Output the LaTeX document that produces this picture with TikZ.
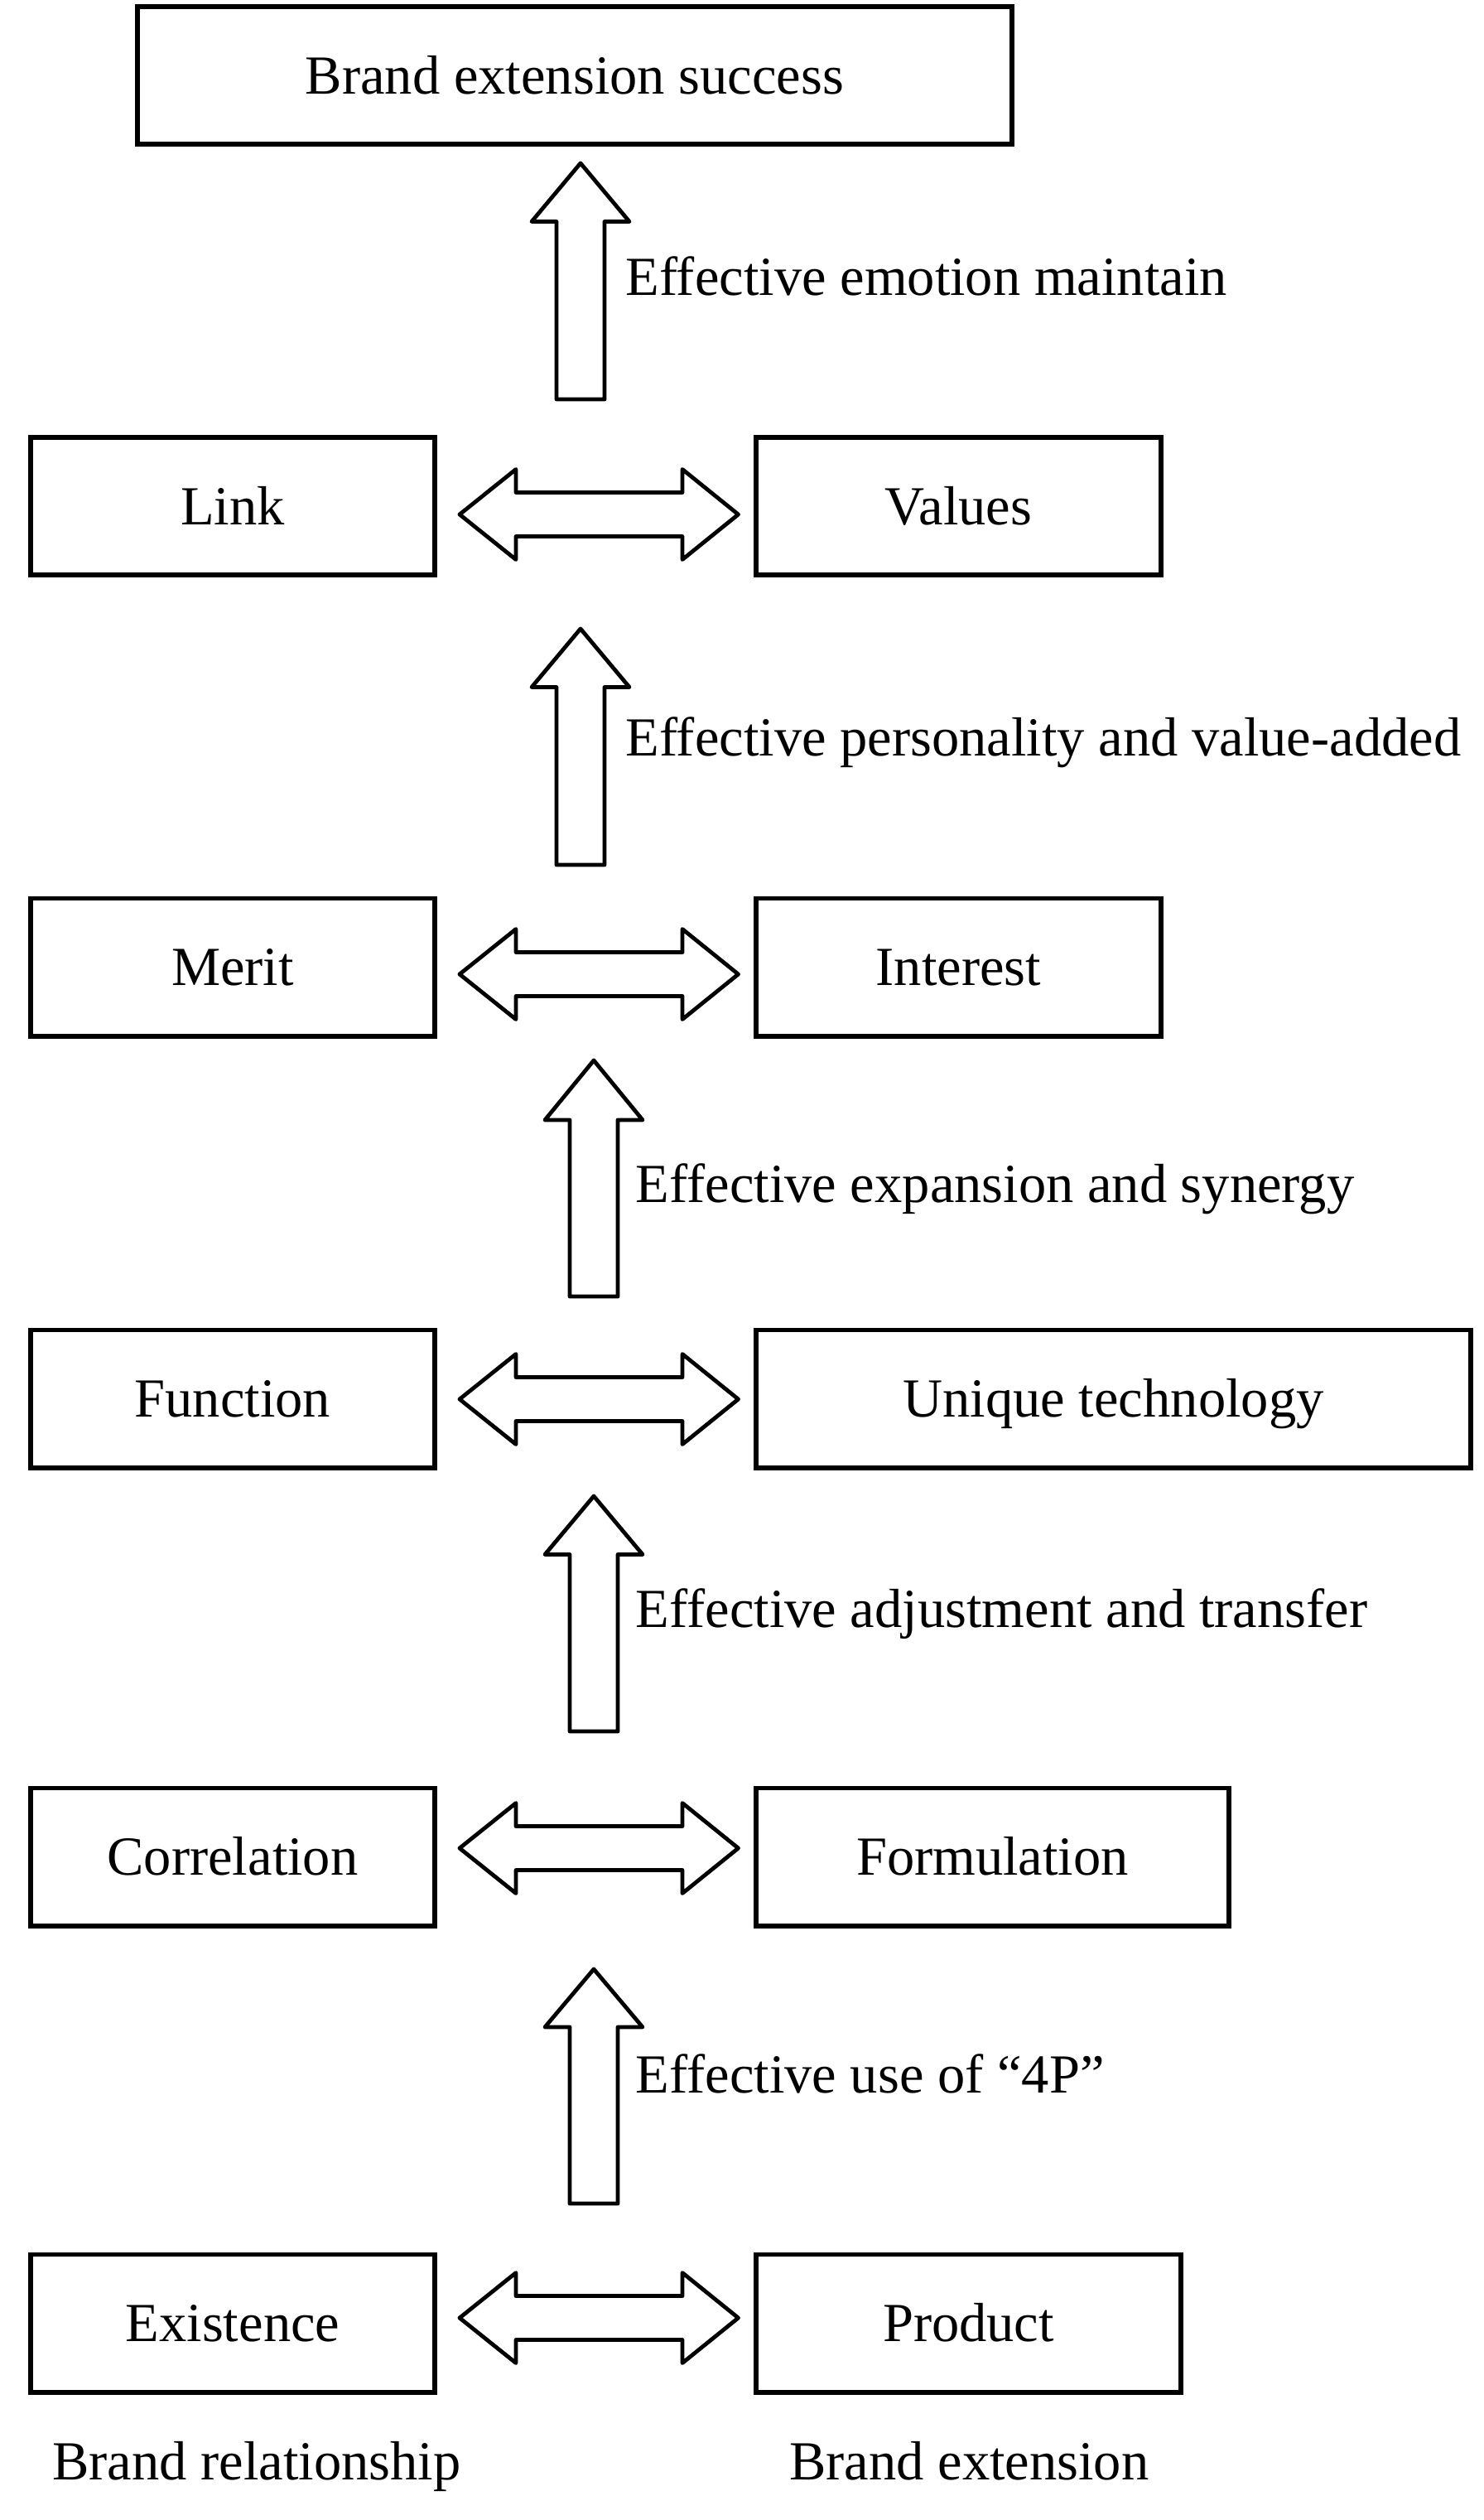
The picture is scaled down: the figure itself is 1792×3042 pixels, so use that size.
\documentclass[tikz,border=0pt]{standalone}
\usepackage{fontspec}
\setmainfont{Liberation Serif}
\newcommand\uparr[4]{%
  \draw[blk] (#1,#2) -- (#1+59,#3) -- (#1+29,#3) -- (#1+29,#4) -- (#1-29,#4) -- (#1-29,#3) -- (#1-59,#3) -- cycle;}
\newcommand\dblarr[1]{%
  \draw[blk] (555,#1) -- (623,#1-54.5) -- (623,#1-26.5) -- (824,#1-26.5) -- (824,#1-54.5) -- (891.5,#1)
    -- (824,#1+54.5) -- (824,#1+26.5) -- (623,#1+26.5) -- (623,#1+54.5) -- cycle;}
\begin{document}
\begin{tikzpicture}[x=0.5pt,y=-0.5pt,
  txt/.style={font=\fontsize{33.25pt}{40pt}\selectfont},
  box/.style={txt, draw, line width=2.9pt, inner sep=0pt, text height=22pt, text depth=0pt, minimum height=83.1pt},
  lbl/.style={txt, inner sep=0pt, anchor=base west},
  blk/.style={draw, line width=2.4pt, line join=round, fill=white}]
\useasboundingbox (0,0) rectangle (1792,3042);

% top
\node[box, minimum width=528.1pt] (success) at (694,91) {Brand extension success};

% rows
\node[box, minimum width=244.1pt] (link) at (281,611) {Link};
\node[box, minimum width=244.6pt] (values) at (1157.5,611) {Values};
\node[box, minimum width=244.1pt] (merit) at (281,1167.5) {Merit};
\node[box, minimum width=244.6pt] (interest) at (1157.5,1167.5) {Interest};
\node[box, minimum width=244.1pt] (function) at (281,1688.5) {Function};
\node[box, minimum width=431.6pt] (unique) at (1344.5,1688.5) {Unique technology};
\node[box, minimum width=244.1pt] (correl) at (281,2241.5) {Correlation};
\node[box, minimum width=285.6pt] (formul) at (1198.5,2241.5) {Formulation};
\node[box, minimum width=244.1pt] (exist) at (281,2804.5) {Existence};
\node[box, minimum width=256.6pt] (product) at (1169.5,2804.5) {Product};

% block arrows up
\uparr{701}{197}{267.5}{482}
\uparr{701}{759}{829.5}{1044}
\uparr{717}{1280}{1352}{1565}
\uparr{717}{1806}{1876.5}{2090}
\uparr{717}{2377}{2447}{2660}

% double arrows
\dblarr{621}
\dblarr{1176}
\dblarr{1689}
\dblarr{2231}
\dblarr{2798}

% labels
\node[lbl] (l1) at (755,356) {Effective emotion maintain};
\node[lbl] (l2) at (755,912) {Effective personality and value-added};
\node[lbl] (l3) at (767.5,1451) {Effective expansion and synergy};
\node[lbl] (l4) at (767.5,1964) {Effective adjustment and transfer};
\node[lbl] (l5) at (767.5,2526) {Effective use of “4P”};

\node[lbl] (brel) at (63,2993) {Brand relationship};
\node[lbl] (bext) at (953,2993) {Brand extension};
\end{tikzpicture}
\end{document}
